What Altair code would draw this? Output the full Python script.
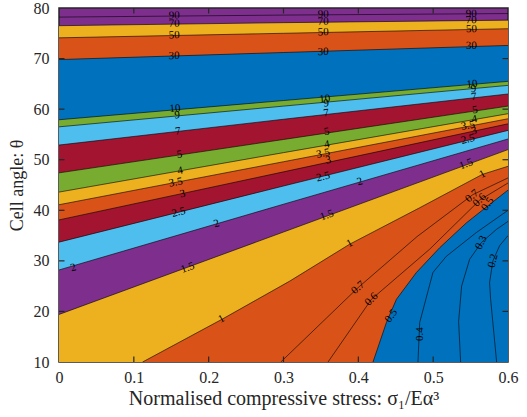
import math
import altair as alt
import pandas as pd

W, H = 449, 354
PX_X = W / 0.6
PX_T = H / 70.0

BLUE = "#0072BD"; ORANGE = "#D95319"; YELLOW = "#EDB120"; PURPLE = "#7E2F8E"
GREEN = "#77AC30"; LBLUE = "#4DBEEE"; RED = "#A2142F"
INK = "#262626"
FONT = "Liberation Serif"

# ---- straight contour lines: theta read at x = 0, 0.3, 0.6 ----
x_grid = [0.0, 0.3, 0.6]
straight_levels = ["90", "70", "50", "30", "10", "9", "7", "5", "4", "3.5", "3", "2.5", "2", "1.5"]
theta_x0 = [78.2, 76.5, 74.1, 69.8, 57.9, 56.5, 52.9, 47.4, 43.6, 41.1, 38.1, 33.7, 28.2, 19.4]
theta_x3 = [78.6, 77.1, 75.0, 71.2, 61.7, 60.6, 58.0, 54.0, 51.4, 49.6, 47.6, 44.8, 41.2, 35.7]
theta_x6 = [78.9, 77.6, 75.9, 72.6, 65.5, 64.7, 63.0, 60.6, 59.1, 58.1, 57.1, 55.8, 54.1, 52.0]

# ---- curved contour lines (lower right) ----
c1_x = [0.1117, 0.2172, 0.3084, 0.3885, 0.482, 0.5657, 0.6]
c1_t = [10, 18.4, 26.0, 33.3, 40.5, 47.1, 48.7]
c07_x = [0.2964, 0.3996, 0.4785, 0.5531, 0.6]
c07_t = [10, 24.7, 34.8, 43.1, 46.4]
c06_x = [0.3595, 0.4175, 0.4953, 0.5621, 0.6]
c06_t = [10, 22.4, 32.3, 42.0, 45.4]
c05_x = [0.4196, 0.4375, 0.4509, 0.4776, 0.5087, 0.5443, 0.5754, 0.6]
c05_t = [10, 17.8, 22.4, 27.7, 32.6, 37.5, 41.15, 44.0]
c04_x = [0.4797, 0.4820, 0.4997, 0.5176, 0.5577, 0.6]
c04_t = [10, 17.8, 27.7, 30.9, 35.6, 40.0]
c03_x = [0.5367, 0.5340, 0.5380, 0.5487, 0.5643, 0.5844, 0.6]
c03_t = [10, 18.0, 25.0, 30.3, 33.6, 36.2, 37.8]
c02_x = [0.5848, 0.5768, 0.5754, 0.5798, 0.5888, 0.6]
c02_t = [10, 22.4, 25.7, 30.0, 33.0, 35.0]

# ---- filled bands: colour of the region below each level ----
fill_levels = ["70", "50", "30", "10", "9", "7", "5", "4", "3.5", "3", "2.5", "2", "1.5", "1", "0.5"]
fill_colors = [YELLOW, ORANGE, BLUE, GREEN, LBLUE, RED, GREEN, YELLOW, ORANGE, RED, LBLUE, PURPLE, YELLOW, ORANGE, BLUE]

# ---- contour labels ----
lab_text = ["90", "70", "50", "30", "10", "9", "7", "5", "4", "3.5", "3", "2.5", "2", "1.5", "1", "2",
            "90", "70", "50", "30", "10", "9", "7", "5", "4", "3.5", "3", "2.5", "2", "1.5", "1", "0.7", "0.6", "0.5", "0.4",
            "90", "70", "50", "30", "10", "9", "7", "5", "4", "3.5", "3", "2.5", "1.5", "1", "0.7", "0.6", "0.5", "0.3", "0.2"]
lab_x = [0.154, 0.154, 0.154, 0.154, 0.155, 0.158, 0.159, 0.161, 0.162, 0.156, 0.165, 0.160, 0.2105, 0.172, 0.217, 0.019,
         0.353, 0.353, 0.353, 0.353, 0.355, 0.357, 0.357, 0.358, 0.358, 0.353, 0.360, 0.353, 0.402, 0.358, 0.3885, 0.3996, 0.4175, 0.444, 0.482,
         0.551, 0.551, 0.551, 0.551, 0.552, 0.554, 0.5545, 0.556, 0.555, 0.5465, 0.5545, 0.5465, 0.544, 0.5657, 0.552, 0.562, 0.573, 0.5643, 0.580]
lab_t = [78.5, 76.9, 74.6, 70.5, 60.1, 58.8, 55.6, 51.0, 47.8, 45.5, 43.2, 39.6, 37.3, 28.6, 18.5, 28.6,
         78.7, 77.3, 75.2, 71.3, 62.0, 61.1, 59.2, 55.5, 53.0, 51.2, 49.9, 46.6, 45.6, 39.0, 33.4, 24.7, 22.4, 19.1, 15.5,
         78.8, 77.6, 75.8, 72.5, 64.9, 64.0, 62.4, 59.8, 58.0, 56.7, 55.7, 54.0, 49.1, 47.1, 42.8, 42.0, 41.2, 33.6, 30.0]
curve_angle = {"1": 29, "0.7": 40, "0.6": 45, "0.5": 55, "0.4": 90, "0.3": 62, "0.2": 75}

# ---------------- build tables ----------------
contours = {}
for i, lv in enumerate(straight_levels):
    contours[lv] = (x_grid, [theta_x0[i], theta_x3[i], theta_x6[i]])
contours["1"] = (c1_x, c1_t)
contours["0.7"] = (c07_x, c07_t)
contours["0.6"] = (c06_x, c06_t)
contours["0.5"] = (c05_x, c05_t)
contours["0.4"] = (c04_x, c04_t)
contours["0.3"] = (c03_x, c03_t)
contours["0.2"] = (c02_x, c02_t)

xscale = alt.Scale(domain=[0, 0.6], nice=False, zero=False)
yscale = alt.Scale(domain=[10, 80], nice=False, zero=False)
xaxis = alt.Axis(values=[0, 0.1, 0.2, 0.3, 0.4, 0.5, 0.6], format="~g", ticks=False, domain=False,
                 grid=False, labelFlush=False, labelPadding=7, titlePadding=3,
                 labelFont=FONT, titleFont=FONT, labelFontSize=16, titleFontSize=20,
                 labelColor=INK, titleColor=INK, titleFontWeight="normal")
yaxis = alt.Axis(values=[10, 20, 30, 40, 50, 60, 70, 80], format="d", ticks=False, domain=False,
                 grid=False, labelFlush=False, labelPadding=10, titlePadding=7,
                 labelFont=FONT, titleFont=FONT, labelFontSize=16, titleFontSize=18,
                 labelColor=INK, titleColor=INK, titleFontWeight="normal")
XT = "Normalised compressive stress: σ₁/Eα³"
YT = "Cell angle: θ"


def X(f="x"):
    return alt.X(f"{f}:Q", scale=xscale, axis=xaxis, title=XT)


def Y(f="theta"):
    return alt.Y(f"{f}:Q", scale=yscale, axis=yaxis, title=YT)


layers = []
for lv, col in zip(fill_levels, fill_colors):
    xs, ts = contours[lv]
    df = pd.DataFrame({"x": xs, "theta": ts})
    layers.append(alt.Chart(df).mark_area(color=col, opacity=1, clip=True)
                  .encode(x=X(), y=Y(), y2=alt.datum(10)))

rows = []
for lv, (xs, ts) in contours.items():
    for k, (a, b) in enumerate(zip(xs, ts)):
        rows.append({"level": lv, "x": a, "theta": b, "k": k})
lines_df = pd.DataFrame(rows)
layers.append(alt.Chart(lines_df).mark_line(color="black", strokeWidth=0.6, clip=True)
              .encode(x=X(), y=Y(), detail="level:N", order="k:Q"))

angles = []
for t in lab_text:
    if t in curve_angle:
        a = curve_angle[t]
    else:
        i = straight_levels.index(t)
        a = math.degrees(math.atan((theta_x6[i] - theta_x0[i]) * PX_T / W))
    angles.append((360 - a) % 360)
lab_df = pd.DataFrame({"x": lab_x, "theta": lab_t, "txt": lab_text, "ang": angles})
layers.append(alt.Chart(lab_df).mark_text(font=FONT, fontSize=11, color="black",
                                          align="center", baseline="middle")
              .encode(x=X(), y=Y(), text="txt:N", angle=alt.Angle("ang:Q", scale=None)))

# inward ticks
xt = pd.DataFrame({"x": [0.1, 0.2, 0.3, 0.4, 0.5]})
yt = pd.DataFrame({"theta": [20, 30, 40, 50, 60, 70]})
TL = 5.5
tk = dict(color=INK, strokeWidth=1.2)
layers.append(alt.Chart(xt).mark_rule(**tk).encode(x=X(), y=alt.value(H), y2=alt.value(H - TL)))
layers.append(alt.Chart(xt).mark_rule(**tk).encode(x=X(), y=alt.value(0), y2=alt.value(TL)))
layers.append(alt.Chart(yt).mark_rule(**tk).encode(y=Y(), x=alt.value(0), x2=alt.value(TL)))
layers.append(alt.Chart(yt).mark_rule(**tk).encode(y=Y(), x=alt.value(W), x2=alt.value(W - TL)))

chart = (alt.layer(*layers)
         .properties(width=W, height=H,
                     padding={"left": 59, "top": 8, "right": 19, "bottom": 55},
                     autosize=alt.AutoSizeParams(type="none"))
         .configure_view(fill=PURPLE, stroke=INK, strokeWidth=1.5))

chart.save("out.html", embed_options={"renderer": "svg", "actions": False})
